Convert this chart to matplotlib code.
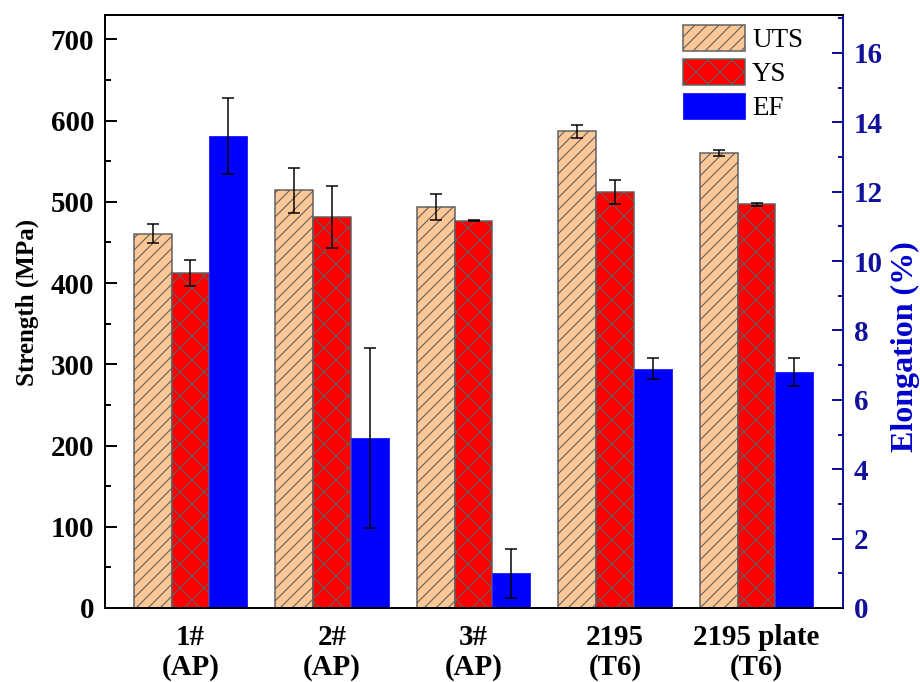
import matplotlib
matplotlib.use("Agg")
import matplotlib.pyplot as plt
from matplotlib.ticker import MultipleLocator
import numpy as np

categories = ["1#\n(AP)", "2#\n(AP)", "3#\n(AP)", "2195\n(T6)", "2195 plate\n(T6)"]
uts = [461, 514, 494, 587, 560]
uts_err = [12, 28, 16, 8, 4]
ys = [412, 481, 477, 512, 497]
ys_err = [16, 38, 1, 15, 2]
ef = [13.6, 4.9, 1.0, 6.9, 6.8]
ef_err = [1.1, 2.6, 0.7, 0.3, 0.4]

DPI = 72
plt.rcParams['font.family'] = ['Liberation Serif', 'DejaVu Serif']
plt.rcParams['hatch.linewidth'] = 1.1
plt.rcParams['font.weight'] = 'bold'

fig = plt.figure(figsize=(920 / DPI, 682 / DPI), dpi=DPI)
ax = fig.add_axes([105 / 920, 1 - 608 / 682, (843 - 105) / 920, (608 - 15) / 682])
ax2 = ax.twinx()

x = np.arange(len(categories))
w = 0.2664
edge = '#5f5f5f'
navy = '#10109a'

ekw = dict(ecolor='black', elinewidth=1.5, capsize=6, capthick=1.5)
b1 = ax.bar(x - w, uts, w, color='#FDC896', edgecolor=edge, hatch='//', linewidth=1.5,
            yerr=uts_err, error_kw=ekw, label='UTS')
b2 = ax.bar(x, ys, w, color='#FF0000', edgecolor=edge, hatch='x', linewidth=1.5,
            yerr=ys_err, error_kw=ekw, label='YS')
b3 = ax2.bar(x + w, ef, w, color='#0000FF', edgecolor='#2a2aff', linewidth=1,
             yerr=ef_err, error_kw=ekw, label='EF')

ax.set_xlim(-0.604, 4.611)
ax.set_ylim(0, 730)
ax2.set_ylim(0, 17.09)

ax.set_xticks(x)
ax.set_xticklabels(categories, fontsize=29, fontweight='bold', linespacing=1.15)
ax.tick_params(axis='x', length=0, pad=16)

ax.yaxis.set_major_locator(MultipleLocator(100))
ax.yaxis.set_minor_locator(MultipleLocator(50))
ax.tick_params(axis='y', which='major', direction='in', length=12, width=2, pad=11, labelsize=29)
ax.tick_params(axis='y', which='minor', direction='in', length=6, width=2)
for lab in ax.get_yticklabels():
    lab.set_fontweight('bold')

ax2.yaxis.set_major_locator(MultipleLocator(2))
ax2.yaxis.set_minor_locator(MultipleLocator(1))
ax2.tick_params(axis='y', which='major', direction='in', length=11, width=2, pad=11,
                labelsize=29, colors=navy)
ax2.tick_params(axis='y', which='minor', direction='in', length=5, width=2, colors=navy)
for lab in ax2.get_yticklabels():
    lab.set_fontweight('bold')

for sp in ['left', 'top', 'bottom']:
    ax.spines[sp].set_linewidth(2)
    ax2.spines[sp].set_linewidth(2)
ax.spines['right'].set_visible(False)
ax2.spines['right'].set_color(navy)
ax2.spines['right'].set_linewidth(2)

fig.text(27 / 920, 1 - 302 / 682, 'Strength (MPa)', fontsize=25, fontweight='bold',
         rotation=90, ha='center', va='center')
fig.text(905 / 920, 1 - 347 / 682, 'Elongation (%)', fontsize=32, fontweight='bold',
         rotation=90, ha='center', va='center', color='#0000CC')

leg = ax2.legend(handles=[b1, b2, b3], labels=['UTS', 'YS', 'EF'],
                 loc='upper left', bbox_to_anchor=(683 / 920, 1 - 25 / 682),
                 bbox_transform=fig.transFigure, frameon=False,
                 prop={'family': 'Liberation Serif', 'weight': 'normal', 'size': 27},
                 handlelength=2.3, handleheight=1.1, labelspacing=0.22,
                 handletextpad=0.26, borderpad=0, borderaxespad=0)

fig.savefig('out.png', dpi=DPI)
